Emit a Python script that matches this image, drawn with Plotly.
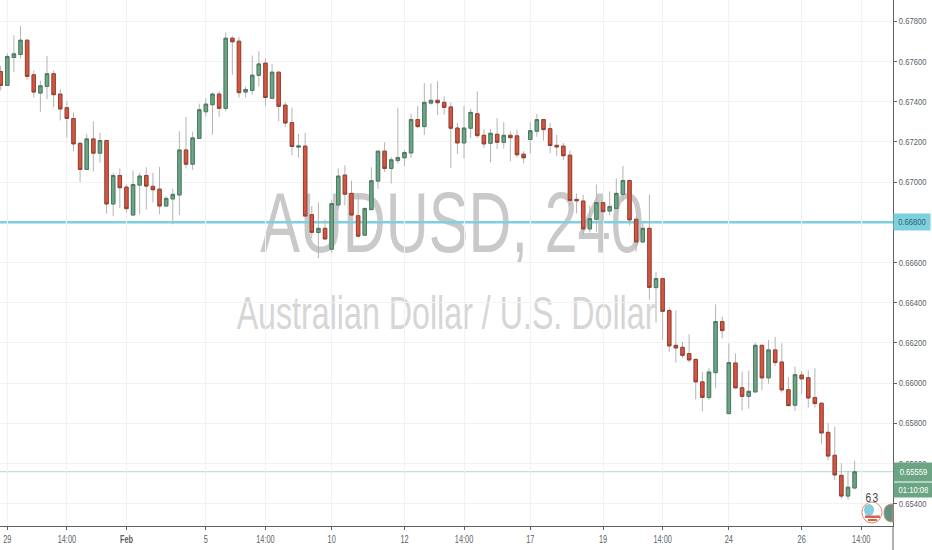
import plotly.graph_objects as go

#AUDUSD 240 candles
opens = [0.67550,0.67481,0.67620,0.67635,0.67706,0.67534,0.67443,0.67476,0.67539,0.67438,
         0.67370,0.67316,0.67193,0.67063,0.67215,0.67144,0.67207,0.66891,0.67033,0.66975,
         0.66836,0.66985,0.67033,0.66979,0.66965,0.66881,0.66916,0.66936,0.67160,0.67089,
         0.67217,0.67350,0.67385,0.67438,0.67367,0.67716,0.67701,0.67448,0.67456,0.67531,
         0.67592,0.67417,0.67547,0.67383,0.67296,0.67174,0.67179,0.66838,0.66749,0.66770,
         0.66666,0.66886,0.67035,0.66944,0.66833,0.66736,0.66863,0.67005,0.67154,0.67068,
         0.67107,0.67121,0.67145,0.67311,0.67276,0.67393,0.67407,0.67397,0.67374,0.67269,
         0.67195,0.67268,0.67340,0.67233,0.67193,0.67238,0.67198,0.67233,0.67230,0.67139,
         0.67212,0.67253,0.67311,0.67266,0.67183,0.67179,0.67134,0.66914,0.66906,0.66767,
         0.66815,0.66898,0.66856,0.66869,0.66939,0.67008,0.66815,0.66702,0.66770,0.66475,
         0.66520,0.66361,0.66188,0.66178,0.66147,0.66118,0.66006,0.65928,0.66052,0.66306,
         0.65848,0.66100,0.65977,0.65934,0.65956,0.66188,0.66026,0.66165,0.66105,0.65967,
         0.65890,0.66040,0.66027,0.65928,0.65900,0.65755,0.65641,0.65541,0.65438,0.65478]
highs = [0.67579,0.67641,0.67731,0.67777,0.67711,0.67555,0.67504,0.67628,0.67555,0.67463,
         0.67403,0.67347,0.67198,0.67240,0.67302,0.67245,0.67208,0.67045,0.67068,0.66988,
         0.67058,0.67046,0.67074,0.67046,0.67076,0.66931,0.66967,0.67253,0.67324,0.67251,
         0.67390,0.67418,0.67446,0.67451,0.67745,0.67727,0.67721,0.67476,0.67630,0.67651,
         0.67617,0.67588,0.67550,0.67398,0.67370,0.67240,0.67245,0.66881,0.66899,0.66813,
         0.66912,0.67068,0.67083,0.67007,0.66939,0.66869,0.67074,0.67155,0.67198,0.67124,
         0.67370,0.67160,0.67339,0.67379,0.67493,0.67490,0.67502,0.67426,0.67397,0.67294,
         0.67380,0.67365,0.67451,0.67261,0.67264,0.67319,0.67298,0.67253,0.67261,0.67154,
         0.67298,0.67340,0.67314,0.67294,0.67236,0.67195,0.67157,0.66944,0.66937,0.66884,
         0.66988,0.66900,0.66954,0.67018,0.67081,0.67008,0.66831,0.66795,0.66939,0.66553,
         0.66520,0.66375,0.66362,0.66205,0.66243,0.66122,0.66055,0.66074,0.66392,0.66331,
         0.66198,0.66148,0.66057,0.66062,0.66201,0.66190,0.66215,0.66230,0.66198,0.66029,
         0.66082,0.66060,0.66064,0.66074,0.65901,0.65800,0.65783,0.65601,0.65563,0.65614]
lows = [0.67456,0.67478,0.67549,0.67615,0.67509,0.67420,0.67350,0.67413,0.67374,0.67307,
        0.67221,0.67152,0.67000,0.67060,0.67053,0.67096,0.66843,0.66831,0.66871,0.66848,
        0.66836,0.66840,0.66864,0.66898,0.66840,0.66876,0.66790,0.66836,0.67068,0.67060,
        0.67217,0.67327,0.67236,0.67326,0.67352,0.67534,0.67420,0.67420,0.67435,0.67476,
        0.67380,0.67413,0.67302,0.67273,0.67134,0.67121,0.66831,0.66721,0.66621,0.66716,
        0.66650,0.66864,0.66884,0.66836,0.66724,0.66733,0.66861,0.66967,0.67050,0.66993,
        0.67093,0.67079,0.67119,0.67268,0.67235,0.67385,0.67334,0.67336,0.67071,0.67140,
        0.67117,0.67218,0.67220,0.67169,0.67098,0.67165,0.67167,0.67104,0.67121,0.67094,
        0.67142,0.67225,0.67207,0.67144,0.67129,0.67109,0.66881,0.66845,0.66737,0.66749,
        0.66752,0.66803,0.66835,0.66869,0.66906,0.66785,0.66653,0.66700,0.66415,0.66301,
        0.66215,0.66155,0.66102,0.66125,0.66102,0.65919,0.65860,0.65916,0.65974,0.66223,
        0.65848,0.65976,0.65865,0.65873,0.65956,0.65964,0.65997,0.66085,0.65953,0.65883,
        0.65861,0.65944,0.65878,0.65878,0.65696,0.65616,0.65518,0.65425,0.65419,0.65472]
closes = [0.67481,0.67625,0.67638,0.67706,0.67526,0.67448,0.67479,0.67539,0.67435,0.67364,
          0.67317,0.67190,0.67063,0.67215,0.67144,0.67207,0.66891,0.67033,0.66972,0.66868,
          0.66988,0.67030,0.66980,0.66962,0.66881,0.66919,0.66939,0.67160,0.67089,0.67220,
          0.67360,0.67388,0.67438,0.67367,0.67716,0.67698,0.67445,0.67461,0.67532,0.67588,
          0.67421,0.67547,0.67377,0.67294,0.67177,0.67180,0.66831,0.66750,0.66770,0.66717,
          0.66893,0.67030,0.66940,0.66836,0.66731,0.66869,0.67007,0.67154,0.67068,0.67111,
          0.67122,0.67147,0.67311,0.67276,0.67397,0.67407,0.67395,0.67372,0.67268,0.67195,
          0.67269,0.67347,0.67231,0.67190,0.67243,0.67198,0.67233,0.67221,0.67136,0.67121,
          0.67256,0.67311,0.67261,0.67182,0.67175,0.67131,0.66909,0.66907,0.66767,0.66818,
          0.66898,0.66853,0.66879,0.66944,0.67008,0.66812,0.66702,0.66770,0.66476,0.66520,
          0.66357,0.66185,0.66175,0.66138,0.66115,0.66006,0.65929,0.66055,0.66306,0.66261,
          0.66102,0.65976,0.65934,0.65959,0.66188,0.66026,0.66165,0.66102,0.65966,0.65888,
          0.66042,0.66021,0.65926,0.65898,0.65752,0.65637,0.65543,0.65438,0.65482,0.65559]
candle_idx = list(range(len(opens)))

x_tick_idx = [1, 10, 19, 31, 40, 50, 61, 70, 80, 91, 100, 110, 121, 130]
x_tick_text = ['29', '14:00', '<b>Feb</b>', '5', '14:00', '10', '12', '14:00', '17', '19', '14:00', '24', '26', '14:00']
#0.668 has no tick of its own, the level line and its box sit there
y_ticks = [0.654, 0.656, 0.658, 0.660, 0.662, 0.664, 0.666, 0.670, 0.672, 0.674, 0.676, 0.678]
y_tick_text = ['0.65400', '0.65600', '0.65800', '0.66000', '0.66200', '0.66400', '0.66600',
               '0.67000', '0.67200', '0.67400', '0.67600', '0.67800']

level_price = 0.668
last_price = 0.65559
countdown = '01:10:08'

#plot area in pixels, used for the small stuff that sits on the paper
plot_w = 893
plot_h = 526
def px(x):
    return x / plot_w
def py(y):
    return 1 - y / plot_h

#gray wicks first, then the bodies with their own darker border
wicks = go.Candlestick(x=candle_idx, open=opens, high=highs, low=lows, close=closes,
                       increasing=dict(line=dict(color='#b4b4b4', width=1), fillcolor='#b4b4b4'),
                       decreasing=dict(line=dict(color='#b4b4b4', width=1), fillcolor='#b4b4b4'),
                       hoverinfo='skip', showlegend=False)
bodies = go.Candlestick(x=candle_idx, open=opens, close=closes,
                        high=[max(o, c) for o, c in zip(opens, closes)],
                        low=[min(o, c) for o, c in zip(opens, closes)],
                        increasing=dict(line=dict(color='#4b7a62', width=1), fillcolor='#6ba583'),
                        decreasing=dict(line=dict(color='#96402f', width=1), fillcolor='#d75442'),
                        hoverinfo='skip', showlegend=False)
fig = go.Figure([wicks, bodies])

green_bubble = (f'M {px(893)} {py(504)} C {px(885)} {py(504)} {px(884)} {py(509)} {px(884)} {py(513)} '
                f'C {px(884)} {py(518)} {px(886)} {py(522)} {px(893)} {py(522)} Z')

shapes = [
    #watermark, sits under the candles
    dict(type='rect', xref='paper', yref='paper', layer='below', line_width=0,
         x0=px(200), x1=px(704), y0=py(252), y1=py(177),
         label=dict(text='AUDUSD, 240', textposition='middle center',
                    font=dict(family='Liberation Sans', size=85, color='#c9c9c9'))),
    dict(type='rect', xref='paper', yref='paper', layer='below', line_width=0,
         x0=px(200), x1=px(692), y0=py(328), y1=py(290),
         label=dict(text='Australian Dollar / U.S. Dollar', textposition='middle center',
                    font=dict(family='Liberation Sans', size=46, color='#d6d6d6'))),
    dict(type='line', xref='paper', yref='y', x0=0, x1=1, y0=level_price, y1=level_price, layer='below',
         line=dict(color='#7fd0df', width=2.5)),
    dict(type='line', xref='paper', yref='y', x0=0, x1=1, y0=last_price, y1=last_price, layer='below',
         line=dict(color='#b5d8c6', width=1)),
    #price axis line runs on to the bottom of the picture
    dict(type='line', xref='paper', yref='paper', x0=1, x1=1, y0=0, y1=py(550),
         line=dict(color='#5d6166', width=1)),
    #event bubbles
    dict(type='circle', xref='paper', yref='paper', x0=px(862), x1=px(882), y0=py(523), y1=py(502),
         fillcolor='#ffffff', line=dict(color='#d98d75', width=1)),
    dict(type='circle', xref='paper', yref='paper', x0=px(864), x1=px(874), y0=py(516), y1=py(504),
         fillcolor='#86cde0', line_width=0),
    dict(type='rect', xref='paper', yref='paper', x0=px(865), x1=px(880), y0=py(518), y1=py(515.5),
         fillcolor='#d9614f', line_width=0),
    dict(type='rect', xref='paper', yref='paper', x0=px(868), x1=px(877), y0=py(521), y1=py(519),
         fillcolor='#d9614f', line_width=0),
    dict(type='path', xref='paper', yref='paper', path=green_bubble,
         fillcolor='#5e9483', line=dict(color='#d98d75', width=1)),
]

annotations = [
    dict(xref='paper', x=1, y=level_price, xanchor='left', text=f'{level_price:.5f}', showarrow=False,
         bgcolor='#7fd0df', width=36, height=16, borderpad=0,
         font=dict(family='Liberation Sans', size=9, color='#2f5f6b')),
    dict(xref='paper', x=1, y=last_price, xanchor='left', yanchor='middle', text=f'{last_price:.5f}', showarrow=False,
         bgcolor='#6ba583', width=39, height=18, borderpad=0,
         font=dict(family='Liberation Sans', size=9, color='#ffffff')),
    dict(xref='paper', x=1, y=last_price, yshift=-18, xanchor='left', yanchor='middle', text=countdown, showarrow=False,
         bgcolor='#6ba583', width=39, height=14, borderpad=0,
         font=dict(family='Liberation Sans', size=9, color='#ffffff')),
    dict(xref='paper', yref='paper', x=px(874), y=py(507), text='6', showarrow=False,
         font=dict(family='Liberation Sans', size=12, color='#444444')),
    dict(xref='paper', yref='paper', x=px(881), y=py(507), text='3', showarrow=False,
         font=dict(family='Liberation Sans', size=12, color='#444444')),
]

fig.update_layout(
    width=932, height=550, autosize=False,
    margin=dict(l=0, r=39, t=0, b=24),
    paper_bgcolor='white', plot_bgcolor='white',
    font=dict(family='Liberation Sans', size=10.5, color='#5a5f66'),
    shapes=shapes, annotations=annotations,
    boxgap=0.25,
    xaxis=dict(range=[-0.1, 134.8], tickmode='array', tickvals=x_tick_idx, ticktext=x_tick_text,
               rangeslider=dict(visible=False), showgrid=True, gridcolor='#f1f2f4', gridwidth=1.2,
               zeroline=False, showline=True, linecolor='#5d6166', linewidth=1, automargin=False,
               ticks='outside', ticklen=3, tickcolor='#5d6166'),
    yaxis=dict(range=[0.65289, 0.67906], side='right', tickmode='array', tickvals=y_ticks, ticktext=y_tick_text,
               tickfont=dict(size=9), showgrid=True, gridcolor='#f1f2f4', gridwidth=1.2, automargin=False,
               ticklabelstandoff=0, zeroline=False, showline=True, linecolor='#5d6166', linewidth=1,
               ticks='outside', ticklen=3, tickcolor='#5d6166'),
)

#the reference text is squeezed sideways, so squeeze the real svg text the same way
squeeze = """
document.body.style.margin = '0';
function squeezeText() {
    document.querySelectorAll('svg text').forEach(function (t) {
        var w = t.getComputedTextLength();
        if (w > 0 && !t.hasAttribute('textLength')) {
            var k = (t.closest('.ytick') || t.closest('.annotation')) ? 0.85 : 0.7;
            t.setAttribute('textLength', w * k);
            t.setAttribute('lengthAdjust', 'spacingAndGlyphs');
        }
    });
}
squeezeText();
setTimeout(squeezeText, 50);
"""
fig.write_html("out.html", config={'displayModeBar': False}, post_script=squeeze)
